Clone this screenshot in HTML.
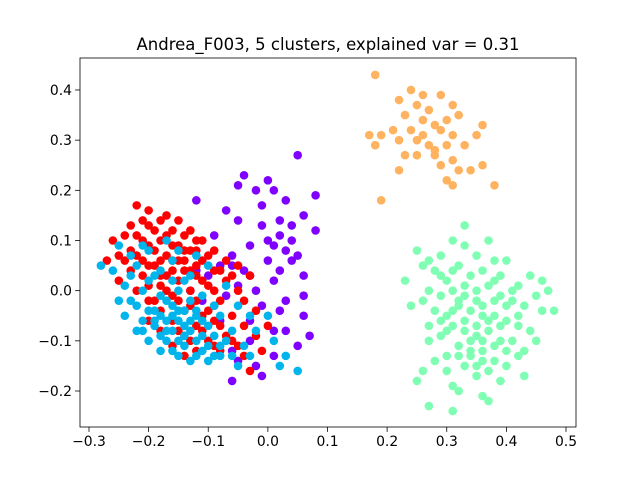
<!DOCTYPE html>
<html><head><meta charset="utf-8">
<style>
html,body{margin:0;padding:0;background:#fff;}
svg{display:block;font-family:"DejaVu Sans","Liberation Sans",sans-serif;}
</style></head>
<body>
<svg id="chart" width="640" height="480">
<rect x="0" y="0" width="640" height="480" fill="#fff"/>
<text x="328" y="50" text-anchor="middle" font-size="16.5">Andrea_F003, 5 clusters, explained var = 0.31</text>
<g id="marks"></g>
<g id="axes"></g>
</svg>
<script>
const xTicks=[-0.3,-0.2,-0.1,0.0,0.1,0.2,0.3,0.4,0.5];
const xTickLabels=["−0.3","−0.2","−0.1","0.0","0.1","0.2","0.3","0.4","0.5"];
const yTicks=[-0.2,-0.1,0.0,0.1,0.2,0.3,0.4];
const yTickLabels=["−0.2","−0.1","0.0","0.1","0.2","0.3","0.4"];
const clusterColors=["#8000ff","#ff0000","#00b5eb","#80ffb4","#ffb360"];
const purplePoints=[[0.05,0.27],[-0.04,0.23],[0.00,0.22],[-0.05,0.21],[-0.02,0.20],[0.01,0.20],[0.08,0.19],[-0.12,0.18],[0.03,0.18],[-0.01,0.17],[-0.07,0.16],[0.06,0.15],[-0.05,0.14],[0.02,0.14],[-0.01,0.13],[0.04,0.13],[0.08,0.12],[-0.09,0.11],[0.02,0.11],[0.04,0.10],[0.00,0.10],[-0.03,0.09],[0.01,0.09],[0.03,0.08],[-0.06,0.07],[0.05,0.07],[0.04,0.06],[0.00,0.06],[-0.08,0.05],[-0.06,0.05],[0.02,0.04],[0.06,0.03],[-0.03,0.03],[0.01,0.02],[-0.05,0.01],[0.06,-0.01],[-0.02,0.00],[0.03,-0.02],[-0.01,-0.03],[-0.09,-0.03],[0.06,-0.05],[0.02,-0.04],[0.03,-0.08],[0.07,-0.09],[-0.03,-0.10],[0.05,-0.11],[-0.06,-0.12],[0.01,-0.13],[-0.05,-0.14],[-0.02,-0.15],[-0.06,-0.18],[-0.01,-0.17],[-0.11,-0.02],[-0.13,0.00],[-0.08,-0.06],[-0.04,0.04],[-0.07,-0.01],[-0.10,0.03],[-0.03,-0.06],[0.01,-0.08],[-0.12,0.04]];
const redPoints=[[-0.22,0.17],[-0.20,0.16],[-0.17,0.15],[-0.21,0.14],[-0.15,0.14],[-0.23,0.13],[-0.19,0.12],[-0.13,0.12],[-0.24,0.11],[-0.17,0.11],[-0.11,0.10],[-0.26,0.10],[-0.21,0.10],[-0.15,0.09],[-0.19,0.08],[-0.23,0.08],[-0.13,0.08],[-0.09,0.08],[-0.27,0.06],[-0.25,0.07],[-0.21,0.06],[-0.17,0.07],[-0.15,0.06],[-0.11,0.06],[-0.07,0.06],[-0.23,0.04],[-0.19,0.05],[-0.13,0.04],[-0.09,0.04],[-0.05,0.05],[-0.25,0.02],[-0.21,0.03],[-0.17,0.03],[-0.15,0.02],[-0.11,0.02],[-0.07,0.02],[-0.03,0.03],[-0.22,0.00],[-0.18,0.01],[-0.13,0.00],[-0.09,0.00],[-0.05,0.00],[-0.20,-0.02],[-0.16,-0.01],[-0.12,-0.02],[-0.08,-0.02],[-0.04,-0.02],[-0.18,-0.04],[-0.14,-0.04],[-0.10,-0.04],[-0.06,-0.05],[-0.02,-0.04],[-0.16,-0.06],[-0.12,-0.07],[-0.08,-0.07],[-0.04,-0.07],[-0.18,-0.08],[-0.14,-0.09],[-0.10,-0.10],[-0.06,-0.10],[-0.02,-0.09],[-0.16,-0.11],[-0.12,-0.12],[-0.08,-0.12],[-0.04,-0.13],[0.00,-0.07],[-0.01,-0.12],[-0.03,-0.16],[-0.14,-0.13],[-0.20,-0.06],[-0.16,0.04],[-0.14,0.06],[-0.12,0.05],[-0.18,0.06],[-0.20,0.13],[-0.18,0.14],[-0.16,0.12],[-0.14,0.11],[-0.12,0.10],[-0.22,0.11],[-0.20,0.09],[-0.18,0.10],[-0.16,0.09],[-0.14,0.08],[-0.12,0.08],[-0.10,0.07],[-0.24,0.06],[-0.22,0.07],[-0.20,0.05],[-0.18,0.03],[-0.16,0.06],[-0.14,0.04],[-0.12,0.03],[-0.10,0.01],[-0.08,0.04],[-0.06,0.03],[-0.20,0.01],[-0.17,0.00],[-0.15,-0.02],[-0.13,-0.03],[-0.11,-0.05],[-0.09,-0.06],[-0.19,-0.02],[-0.15,-0.08],[-0.11,-0.08],[-0.07,-0.09],[-0.13,-0.10],[-0.09,-0.11],[-0.05,-0.11]];
const cyanPoints=[[-0.28,0.05],[-0.25,0.09],[-0.23,0.07],[-0.20,0.08],[-0.17,0.10],[-0.15,0.08],[-0.12,0.07],[-0.26,0.04],[-0.22,0.05],[-0.19,0.03],[-0.16,0.02],[-0.13,0.03],[-0.10,0.05],[-0.24,0.01],[-0.21,0.00],[-0.18,-0.01],[-0.15,0.00],[-0.11,-0.01],[-0.07,0.01],[-0.25,-0.02],[-0.22,-0.03],[-0.19,-0.04],[-0.16,-0.03],[-0.13,-0.02],[-0.09,-0.03],[-0.05,-0.03],[-0.24,-0.05],[-0.21,-0.06],[-0.18,-0.05],[-0.15,-0.06],[-0.12,-0.05],[-0.08,-0.05],[-0.03,-0.05],[0.00,-0.05],[-0.22,-0.08],[-0.19,-0.07],[-0.16,-0.08],[-0.13,-0.08],[-0.10,-0.07],[-0.06,-0.08],[-0.02,-0.08],[-0.20,-0.10],[-0.17,-0.10],[-0.14,-0.11],[-0.11,-0.09],[-0.07,-0.10],[-0.04,-0.11],[0.01,-0.10],[-0.18,-0.12],[-0.15,-0.13],[-0.12,-0.13],[-0.09,-0.13],[-0.06,-0.13],[-0.03,-0.13],[0.03,-0.13],[-0.13,-0.14],[-0.10,-0.14],[-0.05,-0.15],[0.05,-0.16],[0.02,-0.15],[-0.23,-0.02],[-0.20,0.02],[-0.17,-0.02],[-0.14,-0.04],[-0.10,-0.11],[-0.08,-0.11],[-0.21,0.09],[-0.16,-0.12],[-0.20,-0.04],[-0.17,-0.06],[-0.14,-0.07],[-0.11,-0.06],[-0.18,-0.09],[-0.15,-0.10],[-0.12,-0.10],[-0.09,-0.09],[-0.19,-0.06],[-0.16,-0.05],[-0.13,-0.06],[-0.15,-0.04],[-0.12,-0.04],[-0.21,-0.08],[-0.17,-0.08],[-0.14,-0.09],[-0.11,-0.12],[-0.08,-0.13],[-0.16,0.06],[-0.18,0.04],[-0.14,0.02],[-0.23,0.03]];
const greenPoints=[[0.33,0.13],[0.31,0.10],[0.33,0.09],[0.37,0.10],[0.25,0.08],[0.29,0.07],[0.35,0.07],[0.38,0.06],[0.27,0.06],[0.32,0.05],[0.36,0.04],[0.40,0.06],[0.26,0.05],[0.28,0.04],[0.44,0.03],[0.46,0.02],[0.23,0.02],[0.30,0.02],[0.33,0.01],[0.38,0.02],[0.42,0.01],[0.27,0.00],[0.29,-0.01],[0.31,0.00],[0.35,0.00],[0.39,-0.01],[0.45,-0.01],[0.47,0.00],[0.26,-0.02],[0.32,-0.02],[0.36,-0.03],[0.41,-0.02],[0.43,-0.03],[0.24,-0.03],[0.28,-0.04],[0.30,-0.05],[0.34,-0.04],[0.38,-0.05],[0.40,-0.06],[0.46,-0.04],[0.48,-0.04],[0.27,-0.07],[0.31,-0.07],[0.33,-0.06],[0.37,-0.08],[0.42,-0.07],[0.44,-0.08],[0.29,-0.09],[0.35,-0.09],[0.39,-0.10],[0.41,-0.10],[0.27,-0.10],[0.32,-0.11],[0.36,-0.12],[0.40,-0.12],[0.45,-0.10],[0.30,-0.13],[0.34,-0.13],[0.38,-0.14],[0.42,-0.13],[0.28,-0.14],[0.33,-0.15],[0.37,-0.16],[0.40,-0.15],[0.26,-0.16],[0.30,-0.16],[0.35,-0.17],[0.39,-0.18],[0.43,-0.17],[0.25,-0.18],[0.31,-0.19],[0.36,-0.21],[0.32,-0.20],[0.37,-0.22],[0.27,-0.23],[0.31,-0.24],[0.34,-0.10],[0.36,-0.05],[0.39,0.03],[0.32,-0.03],[0.30,-0.08],[0.43,-0.12],[0.41,0.00],[0.29,0.03],[0.34,0.03],[0.37,0.01],[0.33,-0.01],[0.35,-0.02],[0.37,-0.06],[0.35,-0.07],[0.39,-0.07],[0.33,-0.08],[0.36,-0.10],[0.38,-0.11],[0.34,-0.12],[0.31,-0.04],[0.40,-0.03],[0.42,-0.05],[0.36,-0.14],[0.32,-0.13],[0.35,-0.15],[0.29,-0.06],[0.38,-0.02],[0.31,0.04]];
const orangePoints=[[0.18,0.43],[0.24,0.40],[0.26,0.39],[0.29,0.39],[0.31,0.37],[0.22,0.38],[0.25,0.37],[0.27,0.36],[0.23,0.35],[0.26,0.34],[0.28,0.33],[0.30,0.34],[0.32,0.35],[0.36,0.33],[0.17,0.31],[0.19,0.31],[0.21,0.32],[0.24,0.32],[0.29,0.32],[0.31,0.31],[0.35,0.31],[0.18,0.29],[0.22,0.30],[0.25,0.30],[0.27,0.29],[0.30,0.29],[0.33,0.29],[0.23,0.27],[0.25,0.27],[0.28,0.27],[0.31,0.26],[0.36,0.25],[0.29,0.25],[0.32,0.24],[0.34,0.24],[0.22,0.24],[0.30,0.22],[0.38,0.21],[0.31,0.21],[0.19,0.18],[0.28,0.28],[0.26,0.31]];

const NS="http://www.w3.org/2000/svg";
const L=80,R=576,T=58,B=427;
function xs(v){return 89+(v+0.3)*596.25;}
function ys(v){return 391-(v+0.2)*501.7;}
const marks=document.getElementById('marks');
const series=[purplePoints,redPoints,cyanPoints,greenPoints,orangePoints];
const names=["purple","red","cyan","green","orange"];
series.forEach((pts,si)=>{
  pts.forEach(p=>{
    const c=document.createElementNS(NS,'circle');
    c.setAttribute('cx',xs(p[0]));c.setAttribute('cy',ys(p[1]));
    c.setAttribute('r',4.3);c.setAttribute('fill',clusterColors[si]);
    
    
    marks.appendChild(c);
  });
});
const axes=document.getElementById('axes');
const frame=document.createElementNS(NS,'rect');
frame.setAttribute('x',L);frame.setAttribute('y',T);frame.setAttribute('width',R-L);frame.setAttribute('height',B-T);
frame.setAttribute('fill','none');frame.setAttribute('stroke','#000');frame.setAttribute('stroke-width','0.8');


axes.appendChild(frame);
xTicks.forEach((v,i)=>{
  const x=xs(v);
  const l=document.createElementNS(NS,'line');
  l.setAttribute('x1',x);l.setAttribute('x2',x);l.setAttribute('y1',B);l.setAttribute('y2',B+4.9);
  l.setAttribute('stroke','#000');l.setAttribute('stroke-width','0.8');
  
  
  axes.appendChild(l);
  const t=document.createElementNS(NS,'text');
  t.setAttribute('x',x);t.setAttribute('y',B+19);t.setAttribute('text-anchor','middle');t.setAttribute('font-size','13.9');
  t.textContent=xTickLabels[i];
  
  
  axes.appendChild(t);
});
yTicks.forEach((v,i)=>{
  const y=ys(v);
  const l=document.createElementNS(NS,'line');
  l.setAttribute('x1',L-4.9);l.setAttribute('x2',L);l.setAttribute('y1',y);l.setAttribute('y2',y);
  l.setAttribute('stroke','#000');l.setAttribute('stroke-width','0.8');
  
  
  axes.appendChild(l);
  const t=document.createElementNS(NS,'text');
  t.setAttribute('x',L-8);t.setAttribute('y',y+5);t.setAttribute('text-anchor','end');t.setAttribute('font-size','13.9');
  t.textContent=yTickLabels[i];
  
  
  axes.appendChild(t);
});
</script>
</body></html>
